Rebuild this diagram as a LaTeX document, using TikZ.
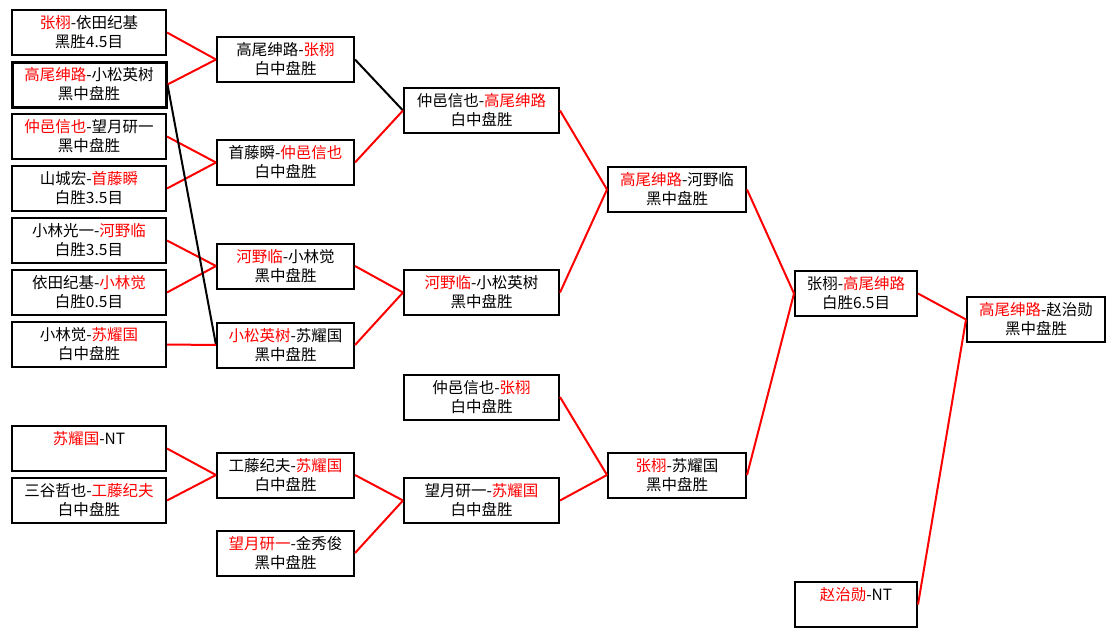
\documentclass[tikz,border=0pt]{standalone}
\usepackage{fontspec}
\newfontfamily\cjk{Noto Sans CJK SC}
\newcommand{\wn}[1]{\textcolor{red}{#1}}

\begin{document}
\begin{tikzpicture}[
    x=1pt, y=-1pt,
    game/.style={draw, line width=2pt, minimum height=45pt, inner sep=1pt,
        align=center, font=\cjk\fontsize{15.5}{19}\selectfont},
    round1/.style={game, minimum width=154pt},
    round2/.style={game, minimum width=137pt},
    round3/.style={game, minimum width=155pt},
    round4/.style={game, minimum width=138pt},
    round5/.style={game, minimum width=122pt},
    round6/.style={game, minimum width=138pt},
    win/.style={red, line width=2pt},
    lose/.style={black, line width=2pt},
]
\fill[white] (0,0) rectangle (1115,637);
\useasboundingbox (0,0) rectangle (1115,637);

% Round 1
\node[round1] (a1) at (89, 32.5)  {\wn{张栩}-依田纪基\\黑胜4.5目};
\node[round1, line width=3pt] (a2) at (89, 84.5) {\wn{高尾绅路}-小松英树\\黑中盘胜};
\node[round1] (a3) at (89, 136.5) {\wn{仲邑信也}-望月研一\\黑中盘胜};
\node[round1] (a4) at (89, 188.5) {山城宏-\wn{首藤瞬}\\白胜3.5目};
\node[round1] (a5) at (89, 240.5) {小林光一-\wn{河野临}\\白胜3.5目};
\node[round1] (a6) at (89, 292.5) {依田纪基-\wn{小林觉}\\白胜0.5目};
\node[round1] (a7) at (89, 344.5) {小林觉-\wn{苏耀国}\\白中盘胜};
\node[round1] (a8) at (89, 448.5) {\wn{苏耀国}-NT\\\phantom{中}};
\node[round1] (a9) at (89, 500.5) {三谷哲也-\wn{工藤纪夫}\\白中盘胜};

% Round 2
\node[round2] (b1) at (285.5, 59.5)  {高尾绅路-\wn{张栩}\\白中盘胜};
\node[round2] (b2) at (285.5, 162.5) {首藤瞬-\wn{仲邑信也}\\白中盘胜};
\node[round2] (b3) at (285.5, 266)   {\wn{河野临}-小林觉\\黑中盘胜};
\node[round2] (b4) at (285.5, 345)   {\wn{小松英树}-苏耀国\\黑中盘胜};
\node[round2] (b5) at (285.5, 475)   {工藤纪夫-\wn{苏耀国}\\白中盘胜};
\node[round2] (b6) at (285.5, 553)   {\wn{望月研一}-金秀俊\\黑中盘胜};

% Round 3
\node[round3] (c1) at (481.5, 110.5) {仲邑信也-\wn{高尾绅路}\\白中盘胜};
\node[round3] (c2) at (481.5, 292.5) {\wn{河野临}-小松英树\\黑中盘胜};
\node[round3] (c3) at (481.5, 397)   {仲邑信也-\wn{张栩}\\白中盘胜};
\node[round3] (c4) at (481.5, 500.5) {望月研一-\wn{苏耀国}\\白中盘胜};

% Round 4
\node[round4] (d1) at (677, 189.5) {\wn{高尾绅路}-河野临\\黑中盘胜};
\node[round4] (d2) at (677, 475)   {\wn{张栩}-苏耀国\\黑中盘胜};

% Round 5
\node[round5] (e1) at (856, 293.5) {张栩-\wn{高尾绅路}\\白胜6.5目};
\node[round5] (e2) at (856, 604.5) {\wn{赵治勋}-NT\\\phantom{中}};

% Final
\node[round6] (f) at (1036, 319.5) {\wn{高尾绅路}-赵治勋\\黑中盘胜};

% Connectors
\draw[win] (a1.east) -- (b1.west);
\draw[win] (a2.east) -- (b1.west);
\draw[win] (a3.east) -- (b2.west);
\draw[win] (a4.east) -- (b2.west);
\draw[win] (a5.east) -- (b3.west);
\draw[win] (a6.east) -- (b3.west);
\draw[lose] (a2.east) -- (b4.west);
\draw[win] (a7.east) -- (b4.west);
\draw[win] (a8.east) -- (b5.west);
\draw[win] (a9.east) -- (b5.west);

\draw[lose] (b1.east) -- (c1.west);
\draw[win] (b2.east) -- (c1.west);
\draw[win] (b3.east) -- (c2.west);
\draw[win] (b4.east) -- (c2.west);
\draw[win] (b5.east) -- (c4.west);
\draw[win] (b6.east) -- (c4.west);

\draw[win] (c1.east) -- (d1.west);
\draw[win] (c2.east) -- (d1.west);
\draw[win] (c3.east) -- (d2.west);
\draw[win] (c4.east) -- (d2.west);

\draw[win] (d1.east) -- (e1.west);
\draw[win] (d2.east) -- (e1.west);

\draw[win] (e1.east) -- (f.west);
\draw[win] (e2.east) -- (f.west);

\end{tikzpicture}
\end{document}
